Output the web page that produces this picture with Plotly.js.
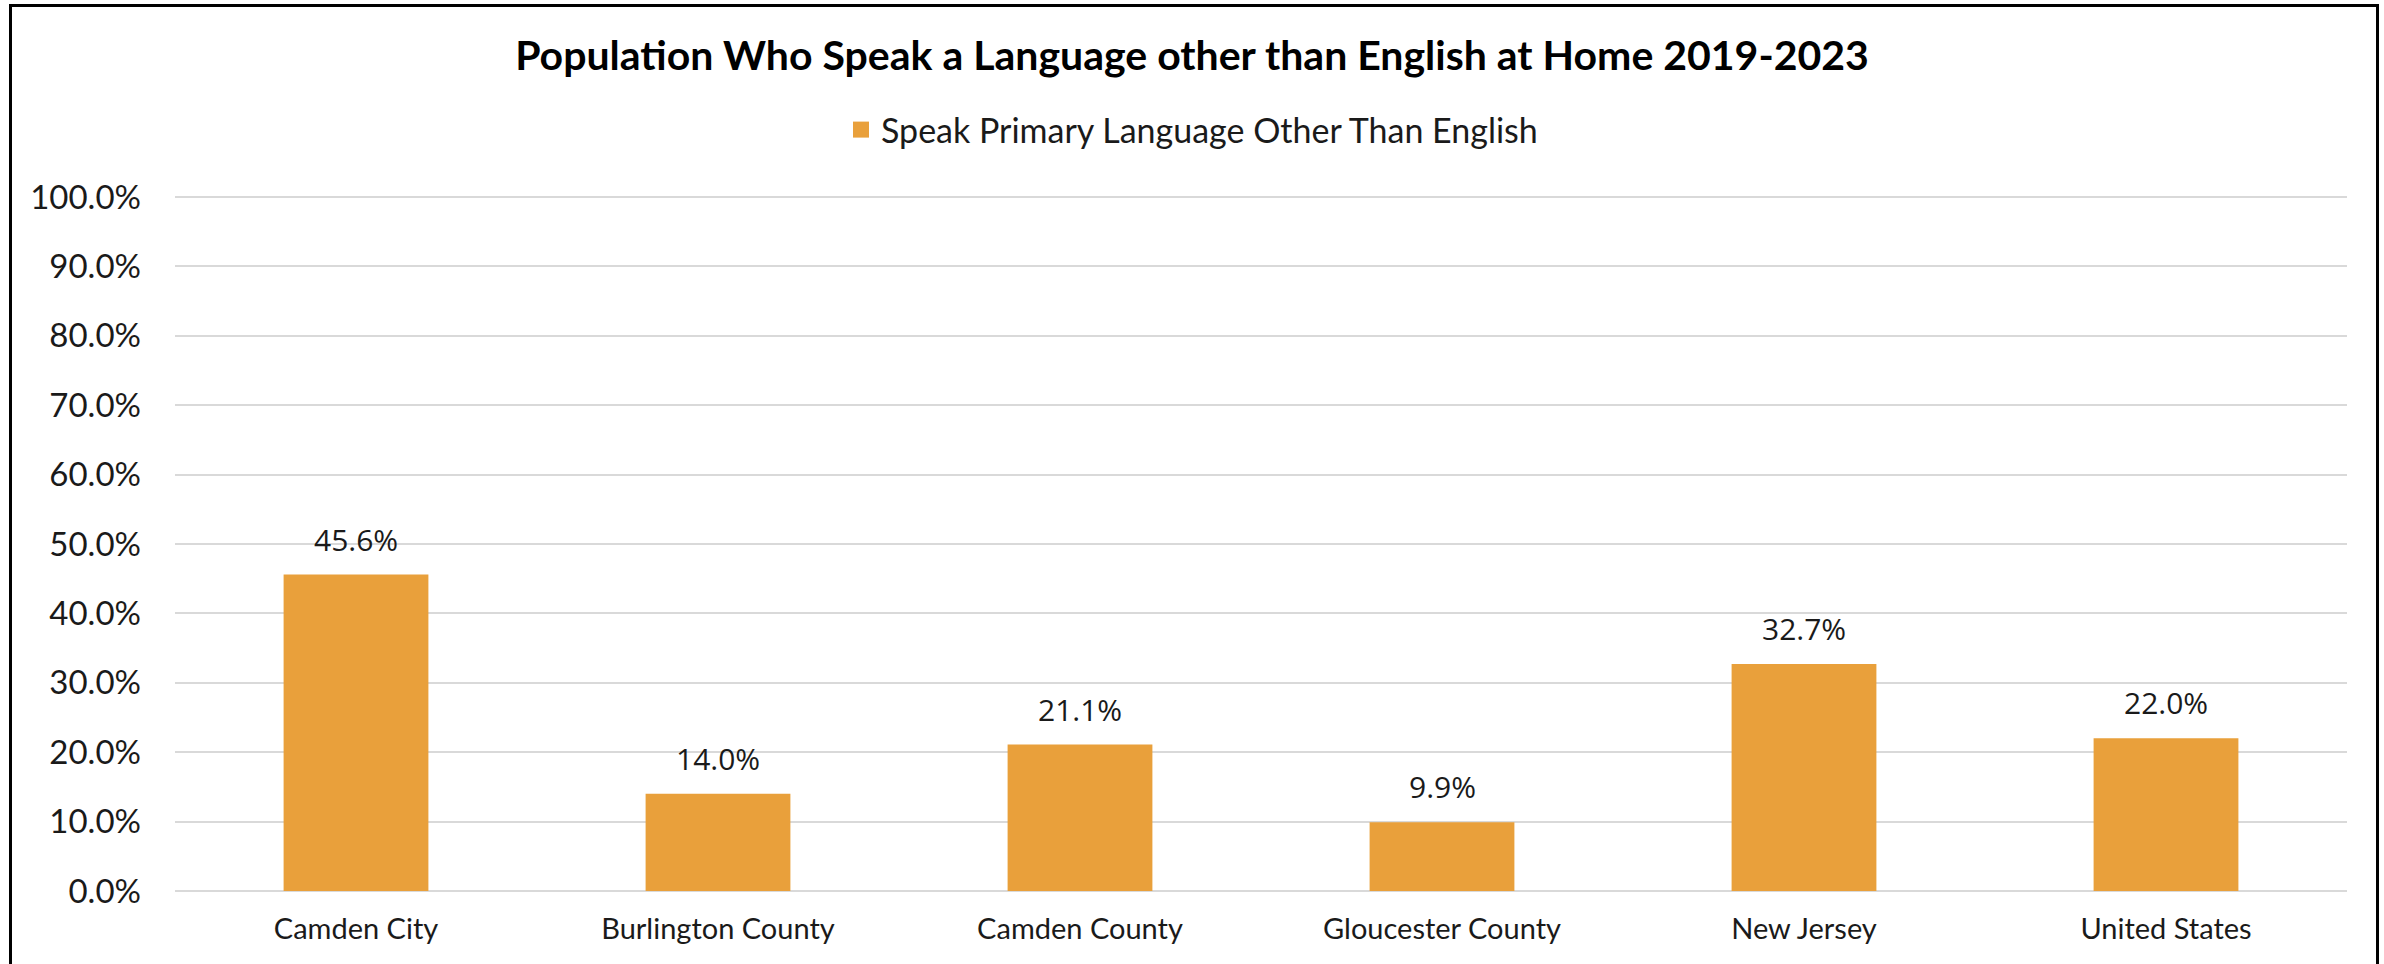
<!DOCTYPE html>
<html>
<head>
<meta charset="utf-8">
<script src="https://cdn.plot.ly/plotly-3.0.1.min.js"></script>
<style>
  html, body { margin: 0; padding: 0; background: #fff; }
  #wrap { position: relative; width: 2384px; height: 964px; overflow: hidden; }
  #chart { width: 2384px; height: 964px; }
  #frame { position: absolute; left: 9px; top: 4px; width: 2370px; height: 990px; border: 3px solid #000; box-sizing: border-box; pointer-events: none; }
</style>
</head>
<body>
<div id="wrap">
  <div id="chart"></div>
  <div id="frame"></div>
</div>
<script>
const categories = ["Camden City", "Burlington County", "Camden County", "Gloucester County", "New Jersey", "United States"];
const values = [45.6, 14.0, 21.1, 9.9, 32.7, 22.0];
const seriesName = "Speak Primary Language Other Than English";
const chartTitle = "Population Who Speak a Language other than English at Home 2019-2023";
const yTickValues = [0, 10, 20, 30, 40, 50, 60, 70, 80, 90, 100];

const barColor = "#E9A03B";
const calibriLike = "Lato, 'Open Sans', sans-serif";

const trace = {
  type: "bar",
  x: categories,
  y: values,
  name: seriesName,
  marker: { color: barColor },
  hoverinfo: "x+y",
  showlegend: false
};

// legend entry only (square swatch like the original)
const legendTrace = {
  type: "scatter",
  mode: "markers",
  x: [null],
  y: [null],
  name: seriesName,
  marker: { color: barColor, symbol: "square", size: 20 },
  showlegend: true
};

const annotations = categories.map((c, i) => ({
  x: c,
  y: values[i],
  xref: "x",
  yref: "y",
  text: values[i].toFixed(1) + "%",
  showarrow: false,
  yanchor: "bottom",
  yshift: 13,
  font: { family: "'Open Sans', sans-serif", size: 30, color: "#1a1a1a" }
}));

const layout = {
  width: 2384,
  height: 964,
  paper_bgcolor: "#ffffff",
  plot_bgcolor: "#ffffff",
  margin: { l: 175, r: 37, t: 196, b: 73, pad: 0 },
  bargap: 0.6,
  title: {
    text: "<b>" + chartTitle + "</b>",
    x: 0.5,
    xanchor: "center",
    xref: "container",
    y: 1 - 56 / 964,
    yref: "container",
    yanchor: "middle",
    font: { family: calibriLike, size: 41, color: "#000" }
  },
  showlegend: true,
  legend: {
    orientation: "h",
    x: 0.5,
    xref: "container",
    xanchor: "center",
    y: 1 - 130 / 964,
    yref: "container",
    yanchor: "middle",
    itemwidth: 30,
    font: { family: calibriLike, size: 34, color: "#1a1a1a" },
    bgcolor: "rgba(0,0,0,0)"
  },
  xaxis: {
    type: "category",
    tickfont: { family: calibriLike, size: 29, color: "#1a1a1a" },
    showgrid: false,
    showline: false,
    zeroline: false,
    ticks: "",
    ticklabelstandoff: 18
  },
  yaxis: {
    range: [0, 100.15],
    tickvals: yTickValues,
    ticktext: yTickValues.map(v => v.toFixed(1) + "%"),
    tickfont: { family: calibriLike, size: 33, color: "#1a1a1a" },
    showgrid: true,
    gridcolor: "#D9D9D9",
    gridwidth: 2,
    zeroline: true,
    zerolinecolor: "#D9D9D9",
    zerolinewidth: 2,
    showline: false,
    ticks: "",
    ticklabelstandoff: 33
  },
  annotations: annotations
};

Plotly.newPlot("chart", [trace, legendTrace], layout, { displayModeBar: false, staticPlot: true });
</script>
</body>
</html>
